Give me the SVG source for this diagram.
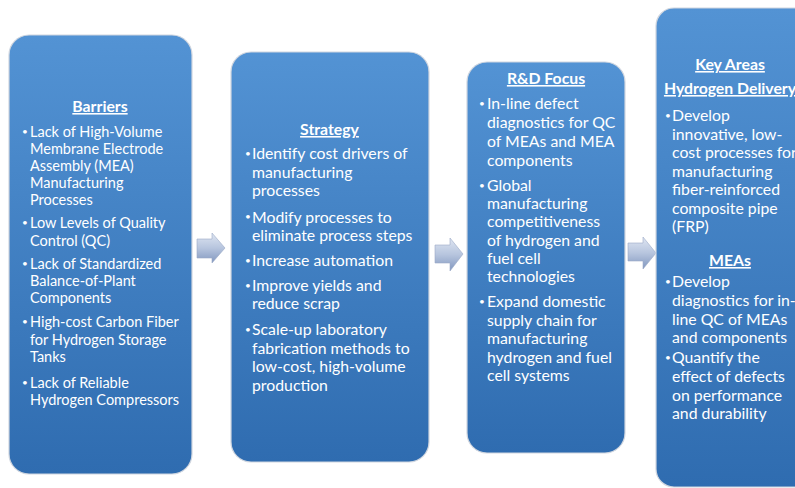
<svg xmlns="http://www.w3.org/2000/svg" width="795" height="488" viewBox="0 0 795 488">
<defs>
<linearGradient id="boxg" x1="0" y1="0" x2="0" y2="1">
<stop offset="0" stop-color="#5393d4"/>
<stop offset="1" stop-color="#2f6cb0"/>
</linearGradient>
<linearGradient id="arrg" x1="0" y1="0" x2="0" y2="1">
<stop offset="0" stop-color="#dfe6f2"/>
<stop offset="0.5" stop-color="#b7c5de"/>
<stop offset="1" stop-color="#8197bf"/>
</linearGradient>
</defs>
<style>
.box{fill:url(#boxg);stroke:#d0d6df;stroke-width:1.2}
.arr{fill:url(#arrg);stroke:#9aaac6;stroke-width:0.6}
text{font-family:Lato,"Liberation Sans",sans-serif;fill:#ffffff}
.t{font-weight:bold;text-decoration:underline;text-anchor:middle}
.s1{font-size:14.5px}
.s2{font-size:15.8px}
.b{font-size:10px}
</style>
<rect width="795" height="488" fill="#ffffff"/>
<g id="connectors">
<path class="arr" d="M197,239 H212 V233 L225,248 L212,263 V258 H197 Z"/>
<path class="arr" d="M435,245 H450 V238 L463,254 L450,271 V263 H435 Z"/>
<path class="arr" d="M628,243 H643 V237 L656,253 L643,269 V261 H628 Z"/>
</g>
<g id="barriers">
<rect class="box" x="9" y="35" width="183" height="439" rx="20"/>
<text class="t s2" x="100" y="112">Barriers</text>
<g class="s1">
<text x="22" y="135" class="b">•</text>
<text x="30" y="137">Lack of High-Volume</text>
<text x="30" y="154">Membrane Electrode</text>
<text x="30" y="171">Assembly (MEA)</text>
<text x="30" y="188">Manufacturing</text>
<text x="30" y="205">Processes</text>
<text x="22" y="226" class="b">•</text>
<text x="30" y="228">Low Levels of Quality</text>
<text x="30" y="245.5">Control (QC)</text>
<text x="22" y="267" class="b">•</text>
<text x="30" y="269">Lack of Standardized</text>
<text x="30" y="286">Balance-of-Plant</text>
<text x="30" y="303">Components</text>
<text x="22" y="325" class="b">•</text>
<text x="30" y="327">High-cost Carbon Fiber</text>
<text x="30" y="344.5">for Hydrogen Storage</text>
<text x="30" y="362">Tanks</text>
<text x="22" y="386" class="b">•</text>
<text x="30" y="388">Lack of Reliable</text>
<text x="30" y="405">Hydrogen Compressors</text>
</g>
</g>
<g id="strategy">
<rect class="box" x="231" y="52" width="198" height="410" rx="20"/>
<text class="t s2" x="329.5" y="135">Strategy</text>
<g class="s2">
<text x="245" y="157" class="b">•</text>
<text x="252" y="159">Identify cost drivers of</text>
<text x="252" y="177.5">manufacturing</text>
<text x="252" y="195.5">processes</text>
<text x="245" y="220" class="b">•</text>
<text x="252" y="222.5">Modify processes to</text>
<text x="252" y="241">eliminate process steps</text>
<text x="245" y="263.5" class="b">•</text>
<text x="252" y="266">Increase automation</text>
<text x="245" y="288.5" class="b">•</text>
<text x="252" y="291">Improve yields and</text>
<text x="252" y="309">reduce scrap</text>
<text x="245" y="333" class="b">•</text>
<text x="252" y="335">Scale-up laboratory</text>
<text x="252" y="353.5">fabrication methods to</text>
<text x="252" y="372">low-cost, high-volume</text>
<text x="252" y="390.5">production</text>
</g>
</g>
<g id="rd-focus">
<rect class="box" x="467" y="62" width="158" height="391" rx="20"/>
<text class="t s2" x="546" y="84">R&amp;D Focus</text>
<g class="s2">
<text x="479" y="107" class="b">•</text>
<text x="487" y="109">In-line defect</text>
<text x="487" y="128">diagnostics for QC</text>
<text x="487" y="147">of MEAs and MEA</text>
<text x="487" y="165.5">components</text>
<text x="479" y="189" class="b">•</text>
<text x="487" y="191">Global</text>
<text x="487" y="209">manufacturing</text>
<text x="487" y="227">competitiveness</text>
<text x="487" y="245.5">of hydrogen and</text>
<text x="487" y="264">fuel cell</text>
<text x="487" y="282">technologies</text>
<text x="479" y="305" class="b">•</text>
<text x="487" y="307">Expand domestic</text>
<text x="487" y="325.5">supply chain for</text>
<text x="487" y="344">manufacturing</text>
<text x="487" y="362.5">hydrogen and fuel</text>
<text x="487" y="381">cell systems</text>
</g>
</g>
<g id="key-areas">
<rect class="box" x="656" y="8" width="170" height="479" rx="18"/>
<text class="t s2" x="730" y="70">Key Areas</text>
<text class="t s2" x="730" y="94">Hydrogen Delivery</text>
<g class="s2">
<text x="665" y="119" class="b">•</text>
<text x="672" y="121">Develop</text>
<text x="672" y="139.5">innovative, low-</text>
<text x="672" y="158">cost processes for</text>
<text x="672" y="176.5">manufacturing</text>
<text x="672" y="195">fiber-reinforced</text>
<text x="672" y="213.5">composite pipe</text>
<text x="672" y="232">(FRP)</text>
</g>
<text class="t s2" x="730" y="266">MEAs</text>
<g class="s2">
<text x="665" y="285" class="b">•</text>
<text x="672" y="287">Develop</text>
<text x="672" y="306">diagnostics for in-</text>
<text x="672" y="324.5">line QC of MEAs</text>
<text x="672" y="343">and components</text>
<text x="665" y="361" class="b">•</text>
<text x="672" y="363">Quantify the</text>
<text x="672" y="382">effect of defects</text>
<text x="672" y="400.5">on performance</text>
<text x="672" y="419">and durability</text>
</g>
</g>
</svg>
